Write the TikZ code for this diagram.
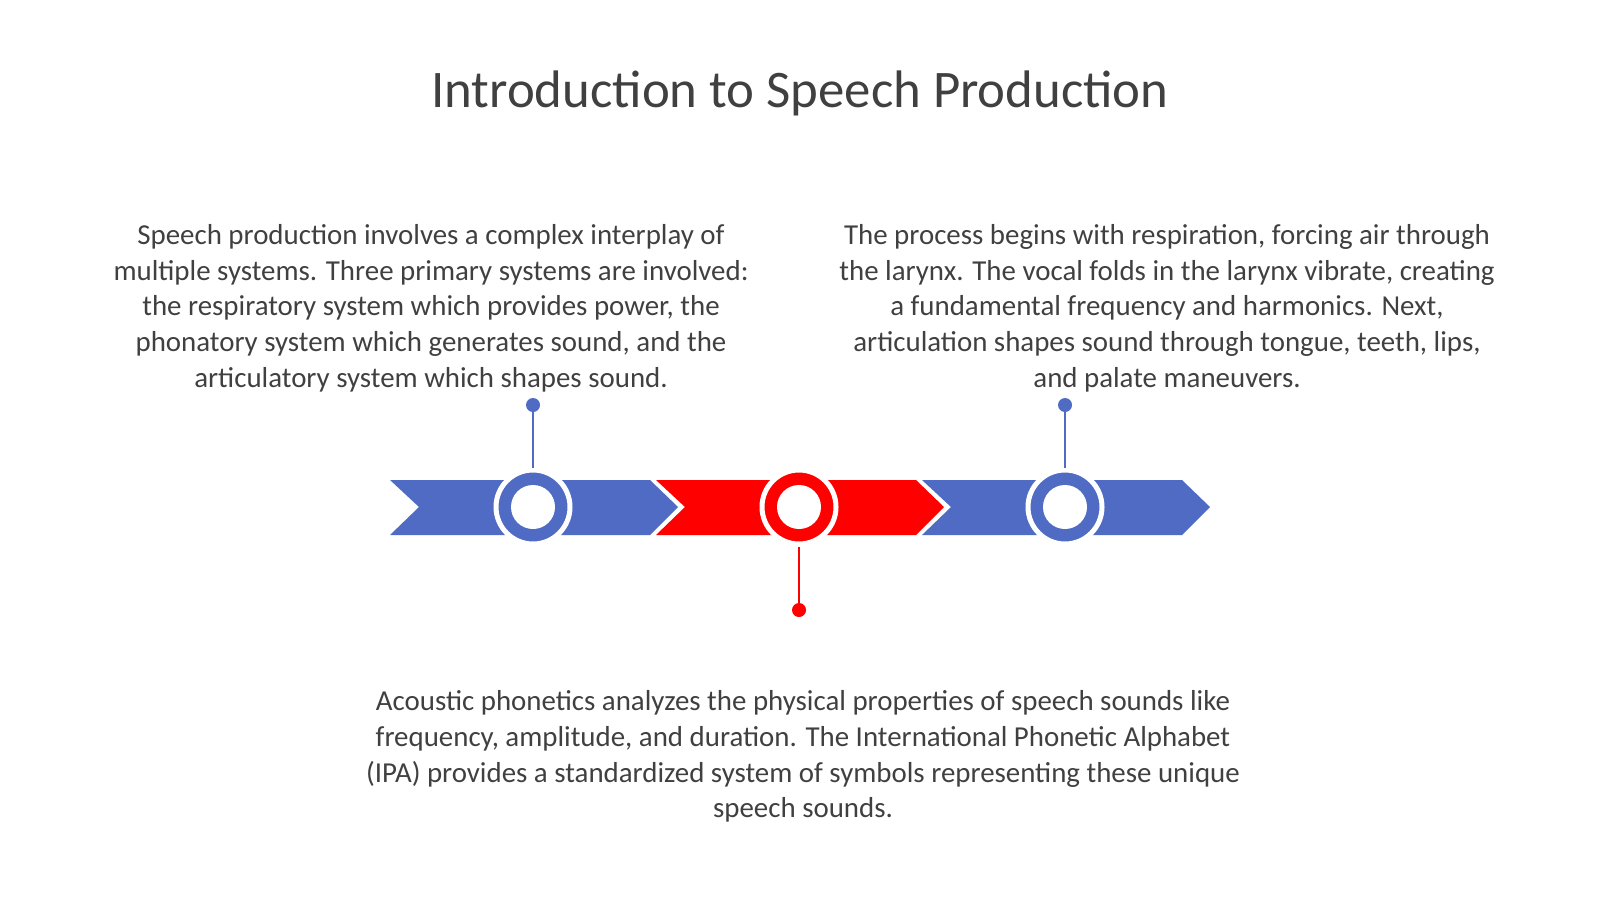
\documentclass[tikz,border=0pt]{standalone}
\usepackage{fontspec}
\setmainfont{Carlito}
\usetikzlibrary{positioning}
\definecolor{tlblue}{HTML}{4F6BC4}
\definecolor{tlred}{HTML}{FF0000}
\definecolor{txtgray}{HTML}{404040}
\tikzset{
  body/.style={text=txtgray, align=center, font=\fontsize{29}{36}\selectfont, inner sep=0pt},
  chevron/.style={fill=#1, draw=none},
  hub/.style={circle, fill=#1, draw=white, line width=5bp, minimum size=74bp, inner sep=0pt},
  hole/.style={circle, fill=white, minimum size=44bp, inner sep=0pt},
  pin/.style={circle, fill=#1, minimum size=14bp, inner sep=0pt},
  stem/.style={draw=#1, line width=2.5bp},
}
\begin{document}
\begin{tikzpicture}[x=1bp, y=-1bp]
  \useasboundingbox (0,0) rectangle (1600,899);
  \node[text=txtgray, font=\fontsize{53}{56}\selectfont] (title) at (800,93) {Introduction to Speech Production};
  % chevrons
  \foreach \x/\c in {390/tlblue, 656/tlred, 922/tlblue}
    \fill[chevron=\c] (\x,480) -- (\x+260,480) -- (\x+288,507) -- (\x+260,535) -- (\x,535) -- (\x+29,507) -- cycle;
  % hubs
  \node[hub=tlblue] (h1) at (533,507) {};
  \node[hub=tlred] (h2) at (799,507) {};
  \node[hub=tlblue] (h3) at (1065,507) {};
  \node[pin=tlblue] (p1) at (533,405) {};
  \node[pin=tlred] (p2) at (799,610) {};
  \node[pin=tlblue] (p3) at (1065,405) {};
  \draw[stem=tlblue] (p1) -- (h1.north);
  \draw[stem=tlred] (h2.south) -- (p2);
  \draw[stem=tlblue] (p3) -- (h3.north);
  \node[hole] at (h1) {};
  \node[hole] at (h2) {};
  \node[hole] at (h3) {};
  % texts
  \node[body, anchor=north] (left) at (431,224) {Speech production involves a complex interplay of\\multiple systems. Three primary systems are involved:\\the respiratory system which provides power, the\\phonatory system which generates sound, and the\\articulatory system which shapes sound.};
  \node[body, anchor=north] (right) at (1167,224) {The process begins with respiration, forcing air through\\the larynx. The vocal folds in the larynx vibrate, creating\\a fundamental frequency and harmonics. Next,\\articulation shapes sound through tongue, teeth, lips,\\and palate maneuvers.};
  \node[body, anchor=north] (bottom) at (803,690) {Acoustic phonetics analyzes the physical properties of speech sounds like\\frequency, amplitude, and duration. The International Phonetic Alphabet\\(IPA) provides a standardized system of symbols representing these unique\\speech sounds.};
\end{tikzpicture}
\end{document}
